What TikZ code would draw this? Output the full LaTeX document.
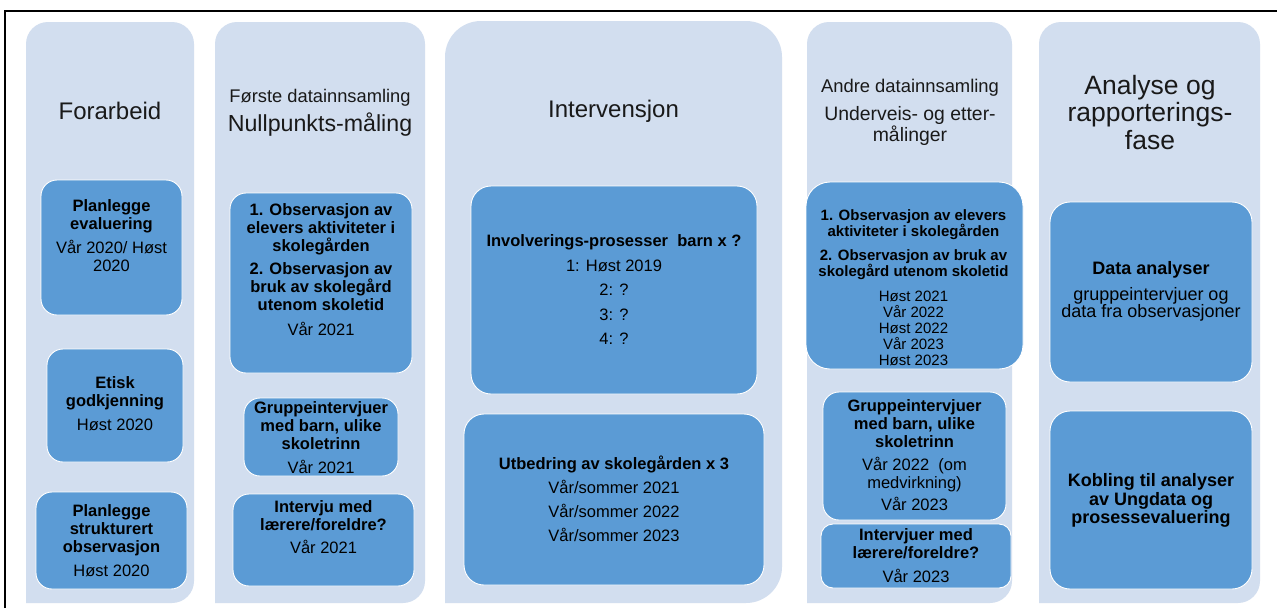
\documentclass[tikz,border=0pt]{standalone}
\usepackage{fontspec}
\setmainfont{Liberation Sans}
\definecolor{colfill}{HTML}{D2DEEF}
\definecolor{boxfill}{HTML}{5B9BD5}
\tikzset{x=1pt, y=-1pt,
  col/.style={fill=colfill},
  box/.style={draw=white, line width=0.9pt, fill=boxfill, rounded corners=16, inner sep=0pt},
  txt/.style={align=center, inner sep=0pt, text=black, font=\fontsize{16.5}{18}\selectfont\bfseries},
  head/.style={align=center, inner sep=0pt, text=black!90},
  frame/.style={line width=2pt, black}}

\begin{document}
\begin{tikzpicture}
  \useasboundingbox [fill=white] (0,0) rectangle (1277,608);

  % columns
  \fill [col] (26,603)  [rounded corners=22] |- (110,22)   -| (194,603)  [sharp corners] -- cycle;
  \fill [col] (215,603) [rounded corners=22] |- (320,22)   -| (425,603)  [sharp corners] -- cycle;
  \fill [col] (445,603) [rounded corners=36] |- (613,21)   -| (782,603)  [sharp corners] -- cycle;
  \fill [col] (807,603) [rounded corners=22] |- (910,22)   -| (1012,603) [sharp corners] -- cycle;
  \fill [col] (1039,603)[rounded corners=22] |- (1150,22)  -| (1260,603) [sharp corners] -- cycle;

  \node [head, font=\fontsize{24}{28}\selectfont] (forarbeid) at (110,111) {Forarbeid};
  \node [head, font=\fontsize{23.2}{29}\selectfont] (forste) at (320,112.5)
    {\fontsize{18.3}{20}\selectfont Første datainnsamling\\Nullpunkts-måling};
  \node [head, font=\fontsize{24}{28}\selectfont] (interv) at (613.5,111) {Intervensjon};
  \node [head, font=\fontsize{19.4}{21}\selectfont] (andre) at (910,112.5)
    {\fontsize{18.4}{21}\selectfont Andre datainnsamling\\[7pt]Underveis- og etter-\\målinger};
  \node [head, font=\fontsize{26.5}{27.5}\selectfont] (analyse) at (1150,112.5) {Analyse og\\rapporterings-\\fase};

  % boxes
  \node [box, minimum width=141, minimum height=135] (plan)    at (111.5,247.5) {};
  \node [box, minimum width=136, minimum height=113] (etisk)   at (115,405.5)   {};
  \node [box, minimum width=151, minimum height=97]  (strukt)  at (111.5,540.5) {};
  \node [box, minimum width=182, minimum height=180] (obsA)    at (321,283)     {};
  \node [box, minimum width=154, minimum height=78]  (grpA)    at (321,437)     {};
  \node [box, minimum width=181, minimum height=92]  (intA)    at (323.5,540)   {};
  \node [box, minimum width=286, minimum height=208, rounded corners=20] (invol) at (614,290) {};
  \node [box, minimum width=300, minimum height=171, rounded corners=20] (utbed) at (614,499.5) {};
  \node [box, minimum width=217, minimum height=187, rounded corners=24] (obsB) at (914.5,275.5) {};
  \node [box, minimum width=183, minimum height=128] (grpB)    at (914.5,456)   {};
  \node [box, minimum width=190, minimum height=64, rounded corners=12] (intB) at (916,556) {};
  \node [box, minimum width=202, minimum height=180, rounded corners=20] (data) at (1151,292) {};
  \node [box, minimum width=202, minimum height=178, rounded corners=20] (kobl) at (1151,500) {};

  \node [txt] (plan-t)   at (111.5,236) {Planlegge\\evaluering\\[6pt]\mdseries Vår 2020/ Høst\\\mdseries 2020};
  \node [txt] (etisk-t)  at (115,404)   {Etisk\\godkjenning\\[6pt]\mdseries Høst 2020};
  \node [txt] (strukt-t) at (111.5,541) {Planlegge\\strukturert\\observasjon\\[6pt]\mdseries Høst 2020};
  \node [txt] (obsA-t)   at (321,270)
    {1. Observasjon av\\elevers aktiviteter i\\skolegården\\[5pt]2. Observasjon av\\bruk av skolegård\\utenom skoletid\\[7pt]\mdseries Vår 2021};
  \node [txt] (grpA-t)   at (321,437.5) {Gruppeintervjuer\\med barn, ulike\\skoletrinn\\[6pt]\mdseries Vår 2021};
  \node [txt] (intA-t)   at (323.5,527) {Intervju med\\lærere/foreldre?\\[5pt]\mdseries Vår 2021};
  \node [txt, font=\fontsize{16.5}{24.5}\selectfont\bfseries] (invol-t) at (614,290)
    {Involverings-prosesser~ barn x ?\\\mdseries 1: Høst 2019\\\mdseries 2: ?\\\mdseries 3: ?\\\mdseries 4: ?};
  \node [txt, font=\fontsize{16.5}{24}\selectfont\bfseries] (utbed-t) at (614,499)
    {Utbedring av skolegården x 3\\\mdseries Vår/sommer 2021\\\mdseries Vår/sommer 2022\\\mdseries Vår/sommer 2023};
  \node [txt, font=\fontsize{15}{16}\selectfont\bfseries] (obsB-t) at (913.5,288)
    {1. Observasjon av elevers\\aktiviteter i skolegården\\[8pt]2. Observasjon av bruk av\\skolegård utenom skoletid\\[9pt]\mdseries Høst 2021\\\mdseries Vår 2022\\\mdseries Høst 2022\\\mdseries Vår 2023\\\mdseries Høst 2023};
  \node [txt] (grpB-t)   at (914.5,455.5)
    {Gruppeintervjuer\\med barn, ulike\\skoletrinn\\[5pt]\mdseries Vår 2022~ (om\\\mdseries medvirkning)\\[4pt]\mdseries Vår 2023};
  \node [txt] (intB-t)   at (916,556) {Intervjuer med\\lærere/foreldre?\\[6pt]\mdseries Vår 2023};
  \node [txt, font=\fontsize{18}{17.5}\selectfont\bfseries] (data-t) at (1151,291.5)
    {Data analyser\\[8.5pt]\mdseries gruppeintervjuer og\\\mdseries data fra observasjoner};
  \node [txt, font=\fontsize{18}{18.5}\selectfont\bfseries] (kobl-t) at (1151,500.5)
    {Kobling til analyser\\av Ungdata og\\prosessevaluering};

  \draw [frame] (5,608) -- (5,10.5) -- (1277,10.5);
\end{tikzpicture}
\end{document}
